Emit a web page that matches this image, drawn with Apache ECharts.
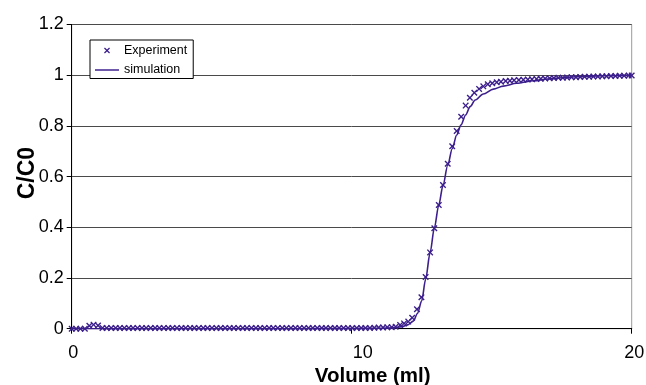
<!DOCTYPE html>
<html>
<head>
<meta charset="utf-8">
<script src="https://cdn.jsdelivr.net/npm/echarts@6/dist/echarts.min.js"></script>
<style>
  html, body { margin: 0; padding: 0; background: #fff; }
  #chart { width: 646px; height: 385px; }
</style>
</head>
<body>
<div id="chart"></div>
<script>
// Breakthrough curve: measured C/C0 against eluted volume, with the model fit.
const expVolume = [
  0.00, 0.16, 0.31, 0.47, 0.63, 0.78, 0.94, 1.10, 1.25, 1.41,
  1.57, 1.72, 1.88, 2.04, 2.19, 2.35, 2.51, 2.66, 2.82, 2.98,
  3.13, 3.29, 3.45, 3.60, 3.76, 3.92, 4.07, 4.23, 4.38, 4.54,
  4.70, 4.85, 5.01, 5.17, 5.32, 5.48, 5.64, 5.79, 5.95, 6.11,
  6.26, 6.42, 6.58, 6.73, 6.89, 7.05, 7.20, 7.36, 7.52, 7.67,
  7.83, 7.99, 8.14, 8.30, 8.46, 8.61, 8.77, 8.93, 9.08, 9.24,
  9.40, 9.55, 9.71, 9.87, 10.02, 10.18, 10.34, 10.49, 10.65, 10.81,
  10.96, 11.12, 11.27,
  11.43, 11.57, 11.73, 11.87, 12.02, 12.16, 12.33, 12.49, 12.64, 12.80,
  12.95, 13.11, 13.26, 13.43, 13.59, 13.75, 13.91, 14.07, 14.22, 14.38,
  14.55, 14.70, 14.86, 15.02, 15.18, 15.33, 15.50, 15.65, 15.80, 15.97,
  16.13, 16.29, 16.44, 16.60, 16.75, 16.91, 17.07, 17.22, 17.38, 17.54,
  17.69, 17.85, 18.01, 18.16, 18.32, 18.48, 18.63, 18.79, 18.95, 19.10,
  19.26, 19.42, 19.57, 19.73, 19.89, 20.00
];
const expValue = [
  0.000, 0.000, 0.000, 0.000, 0.012, 0.016, 0.013, 0.003, 0.003, 0.003,
  0.003, 0.003, 0.003, 0.003, 0.003, 0.003, 0.003, 0.003, 0.003, 0.003,
  0.003, 0.003, 0.003, 0.003, 0.003, 0.003, 0.003, 0.003, 0.003, 0.003,
  0.003, 0.003, 0.003, 0.003, 0.003, 0.003, 0.003, 0.003, 0.003, 0.003,
  0.003, 0.003, 0.003, 0.003, 0.003, 0.003, 0.003, 0.003, 0.003, 0.003,
  0.003, 0.003, 0.003, 0.003, 0.003, 0.003, 0.003, 0.003, 0.003, 0.003,
  0.003, 0.003, 0.003, 0.003, 0.003, 0.003, 0.003, 0.003, 0.003, 0.004,
  0.005, 0.005, 0.006,
  0.006, 0.008, 0.015, 0.021, 0.028, 0.043, 0.077, 0.124, 0.204, 0.301,
  0.396, 0.488, 0.567, 0.651, 0.720, 0.780, 0.836, 0.880, 0.911, 0.931,
  0.946, 0.956, 0.964, 0.968, 0.972, 0.974, 0.977, 0.978, 0.980, 0.981,
  0.982, 0.983, 0.984, 0.985, 0.986, 0.987, 0.988, 0.989, 0.990, 0.990,
  0.991, 0.992, 0.992, 0.993, 0.994, 0.994, 0.995, 0.995, 0.996, 0.996,
  0.997, 0.997, 0.998, 0.998, 0.999, 0.999
];
const simVolume = [
  0, 2, 4, 6, 8, 10, 11, 11.5, 11.8, 12.0, 12.2, 12.35, 12.5, 12.64, 12.8,
  12.95, 13.11, 13.26, 13.43, 13.59, 13.75, 13.9, 14.07, 14.23, 14.41, 14.7,
  15.06, 15.41, 15.89, 16.5, 17, 17.5, 18, 19, 20
];
const simValue = [
  0, 0, 0, 0, 0, 0.001, 0.002, 0.004, 0.008, 0.015, 0.03, 0.06, 0.11, 0.195, 0.30,
  0.396, 0.488, 0.565, 0.645, 0.71, 0.764, 0.803, 0.843, 0.876, 0.902, 0.926,
  0.945, 0.957, 0.968, 0.978, 0.985, 0.99, 0.994, 0.998, 1.0
];
const xTicks = [0, 10, 20];
const yTicks = [0, 0.2, 0.4, 0.6, 0.8, 1, 1.2];

const seriesColor = '#3c1f8c';
const font = '"Liberation Sans", Arial, sans-serif';
const crossSymbol = 'path://M0,1.5L1.5,0L5,3.5L8.5,0L10,1.5L6.5,5L10,8.5L8.5,10L5,6.5L1.5,10L0,8.5L3.5,5Z';
const lineIcon = 'path://M0,0L26,0L26,1.6L0,1.6Z';
const xLabelStyle = { fontFamily: font, fontSize: 18, color: '#000' };

const chart = echarts.init(document.getElementById('chart'), null, { renderer: 'canvas', width: 646, height: 385 });
chart.setOption({
  animation: false,
  backgroundColor: '#fff',
  grid: {
    left: 71.7, right: 14.3, top: 24.5, bottom: 56.3,
    containLabel: false,
    outerBoundsMode: 'none',
    show: true, borderColor: '#9a9a9a', borderWidth: 1
  },
  legend: {
    orient: 'vertical',
    left: 90, top: 40,
    padding: [4, 6, 2, 5],
    itemGap: 6.5,
    itemWidth: 24,
    itemHeight: 6,
    backgroundColor: '#fff',
    borderColor: '#000',
    borderWidth: 1,
    borderRadius: 0,
    textStyle: { fontFamily: font, fontSize: 12.5, color: '#000' },
    data: [
      { name: 'Experiment', icon: crossSymbol },
      { name: 'simulation', icon: lineIcon }
    ]
  },
  xAxis: {
    type: 'value',
    min: 0, max: 20, interval: 10,
    name: 'Volume (ml)',
    nameLocation: 'middle',
    nameGap: 37,
    nameMoveOverlap: false,
    nameTextStyle: { fontFamily: font, fontSize: 20.5, fontWeight: 'bold', color: '#000', padding: [0, 0, 0, 42] },
    axisLine: { show: true, lineStyle: { color: '#000', width: 1 } },
    axisTick: { show: true, inside: false, length: 5, lineStyle: { color: '#000' } },
    axisLabel: {
      margin: 15,
      ...xLabelStyle,
      rich: {
        a: { ...xLabelStyle, padding: [0, 0, 0, 3] },
        b: { ...xLabelStyle, padding: [0, 0, 0, 22] },
        c: { ...xLabelStyle, padding: [0, 0, 0, 5] }
      },
      formatter: v => {
        const i = xTicks.indexOf(v);
        return i < 0 ? '' : '{' + 'abc'[i] + '|' + v + '}';
      }
    },
    splitLine: { show: false }
  },
  yAxis: {
    type: 'value',
    min: 0, max: 1.2, interval: 0.2,
    name: 'C/C0',
    nameLocation: 'middle',
    nameGap: 33,
    nameMoveOverlap: false,
    nameTextStyle: { fontFamily: font, fontSize: 23, fontWeight: 'bold', color: '#000', padding: [0, 0, 0, 7] },
    axisLine: { show: true, lineStyle: { color: '#000', width: 1 } },
    axisTick: { show: true, inside: false, length: 5, lineStyle: { color: '#000' } },
    axisLabel: {
      margin: 8, fontFamily: font, fontSize: 18, color: '#000',
      formatter: v => {
        const t = yTicks.find(y => Math.abs(y - v) < 1e-9);
        return t === undefined ? '' : String(t);
      }
    },
    splitLine: { show: true, lineStyle: { color: '#4a4a4a', width: 1 } }
  },
  series: [
    {
      name: 'simulation',
      type: 'line',
      data: simVolume.map((v, i) => [v, simValue[i]]),
      showSymbol: false,
      symbol: 'none',
      smooth: 0.3,
      smoothMonotone: 'x',
      lineStyle: { color: seriesColor, width: 1.6 },
      itemStyle: { color: seriesColor },
      z: 2
    },
    {
      name: 'Experiment',
      type: 'scatter',
      data: expVolume.map((v, i) => [v, expValue[i]]),
      symbol: crossSymbol,
      symbolSize: 6.5,
      clip: false,
      itemStyle: { color: seriesColor, opacity: 1 },
      z: 3
    }
  ]
});
</script>
</body>
</html>
